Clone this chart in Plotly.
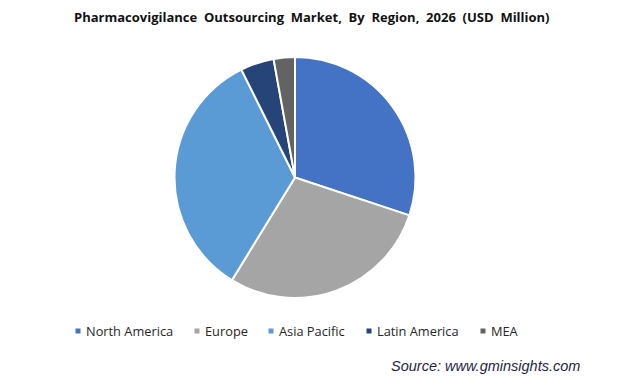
import plotly.graph_objects as go

regions = ["North America", "Europe", "Asia Pacific", "Latin America", "MEA"]
values = [30.1, 28.7, 33.9, 4.5, 2.85]
colors = ["#4472C4", "#A5A5A5", "#5B9BD5", "#264478", "#636363"]

W, H = 624, 378
cx, cy, r = 295, 177.5, 120.5

fig = go.Figure(go.Pie(
    labels=regions, values=values, sort=False, direction="clockwise", rotation=0,
    marker=dict(colors=colors, line=dict(color="white", width=2)),
    textinfo="none", hoverinfo="label+value", showlegend=False,
    domain=dict(x=[(cx - r) / W, (cx + r) / W], y=[(H - cy - r) / H, (H - cy + r) / H]),
))

# custom legend (marker square + label)
legend_x = [78, 197, 271, 369, 483]
legend_y = 331
shapes = []
annotations = []
for name, col, lx in zip(regions, colors, legend_x):
    shapes.append(dict(type="rect", xref="paper", yref="paper",
                       x0=(lx - 2.5) / W, x1=(lx + 2.5) / W,
                       y0=(H - legend_y - 2.5) / H, y1=(H - legend_y + 2.5) / H,
                       fillcolor=col, line=dict(width=0)))
    annotations.append(dict(text=name, x=(lx + 6) / W, y=(H - legend_y) / H,
                            xref="paper", yref="paper", xanchor="left", yanchor="middle",
                            showarrow=False, font=dict(family="Open Sans", size=12.8, color="#262626")))

annotations.append(dict(text="<b>Pharmacovigilance  Outsourcing  Market,  By  Region,  2026  (USD  Million)</b>",
                        x=311.5 / W, y=(H - 17) / H, xref="paper", yref="paper",
                        xanchor="center", yanchor="middle", showarrow=False,
                        font=dict(family="Open Sans", size=13, color="#111111")))
annotations.append(dict(text="<i>Source: www.gminsights.com</i>",
                        x=582 / W, y=(H - 366) / H, xref="paper", yref="paper",
                        xanchor="right", yanchor="middle", showarrow=False,
                        font=dict(family="Liberation Sans", size=14.5, color="#1F1F3F")))

fig.update_layout(width=W, height=H, margin=dict(l=0, r=0, t=0, b=0),
                  paper_bgcolor="white", plot_bgcolor="white",
                  shapes=shapes, annotations=annotations)

fig.write_html("out.html")
